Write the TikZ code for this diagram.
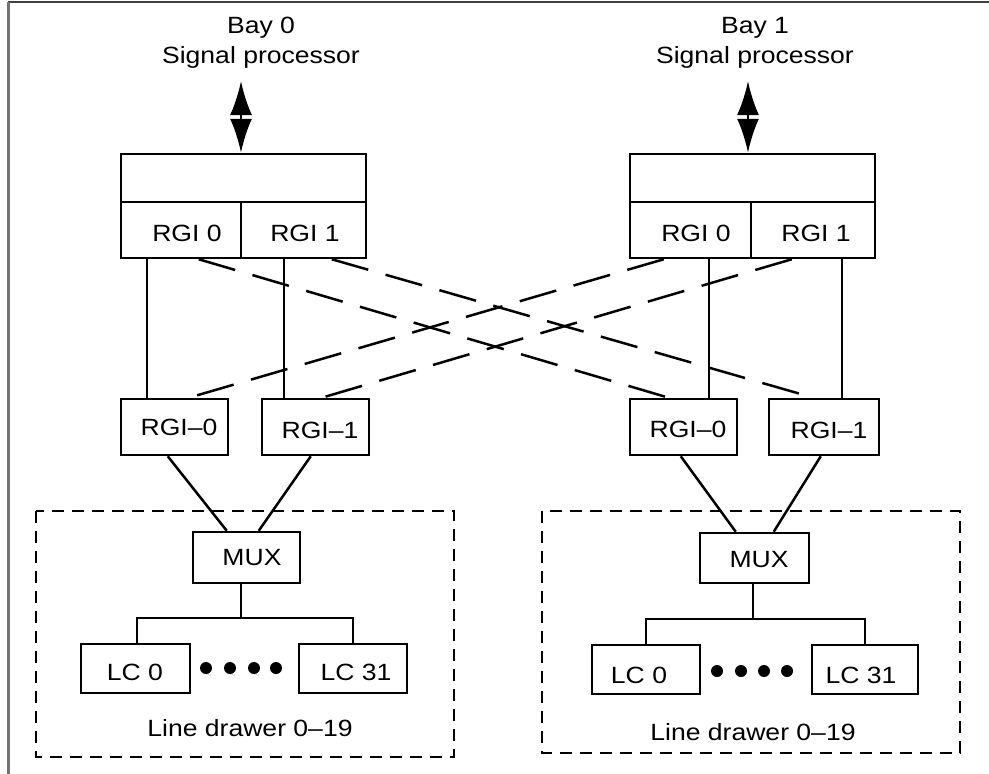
\documentclass[tikz,border=0pt]{standalone}
\usepackage{fontspec}
\setmainfont{Liberation Sans}[FakeStretch=1.13]
\usetikzlibrary{arrows.meta,positioning}
\begin{document}
\begin{tikzpicture}[x=1pt,y=-1pt,line width=2.5pt,
  every node/.style={font=\fontsize{23.5}{30}\selectfont,inner sep=0pt,line width=2.5pt},
  box/.style={draw,rectangle,minimum width=#1,minimum height=56pt},
  solid link/.style={draw,line width=2.5pt},
  cross/.style={draw,line width=2.5pt,dash pattern=on 38pt off 18pt},
  drawer/.style={draw,line width=2.5pt,dash pattern=on 12pt off 8pt},
  dot/.style={circle,fill,minimum size=12pt},
  bidir/.style={{Latex[length=34pt,width=22pt]}-{Latex[length=34pt,width=22pt]},line width=2.5pt}]
\useasboundingbox (0,0) rectangle (989,774);
% frame
\draw[line width=1.5pt,black!75] (8,2) -- (989,2);
\draw[line width=2.2pt,black!55] (8.5,2) -- (8.5,774);

% ---------- Bay 0 ----------
\node[align=center] (bay0) at (261,43) {Bay 0\\Signal processor};
\node[draw,rectangle,minimum width=245pt,minimum height=48pt] (spL) at (243.5,178) {};
\node[draw,rectangle,minimum width=120pt,minimum height=56pt] (tL0) at (181,230) {};
\node[draw,rectangle,minimum width=125pt,minimum height=56pt] (tL1) at (303.5,230) {};
\node (tL0t) at (187,233) {RGI 0};
\node (tL1t) at (305,233) {RGI 1};
\coordinate (arrL) at (241,81);
\draw[bidir] (arrL) -- (arrL |- spL.north);

\node[box=107pt] (mL0) at (174.5,427) {};
\node (mL0t) at (179,427) {RGI\textendash 0};
\node[box=107pt] (mL1) at (315.5,427) {};
\node (mL1t) at (320,430) {RGI\textendash 1};

\node[draw,rectangle,minimum width=107pt,minimum height=51pt] (muxL) at (246.5,557.5) {};
\node (muxLt) at (252,558) {MUX};
\node[draw,rectangle,minimum width=109pt,minimum height=49pt] (lcL0) at (135.5,668.5) {};
\node (lcL0t) at (135,672) {LC 0};
\node[draw,rectangle,minimum width=108pt,minimum height=49pt] (lcL31) at (353,668.5) {};
\node (lcL31t) at (356,672) {LC 31};
\node[dot] (dL1) at (206,668) {};
\node[dot] (dL2) at (230,668) {};
\node[dot] (dL3) at (254,668) {};
\node[dot] (dL4) at (276,668) {};
\draw[drawer] (36,511) rectangle (454,757);
\node (ldL) at (250,728) {Line drawer 0\textendash 19};

% ---------- Bay 1 ----------
\node[align=center] (bay1) at (755,43) {Bay 1\\Signal processor};
\node[draw,rectangle,minimum width=245pt,minimum height=48pt] (spR) at (752.5,178) {};
\node[draw,rectangle,minimum width=121pt,minimum height=56pt] (tR0) at (690.5,230) {};
\node[draw,rectangle,minimum width=124pt,minimum height=56pt] (tR1) at (813,230) {};
\node (tR0t) at (696,233) {RGI 0};
\node (tR1t) at (816,233) {RGI 1};
\coordinate (arrR) at (748,81);
\draw[bidir] (arrR) -- (arrR |- spR.north);

\node[box=107pt] (mR0) at (683.5,427) {};
\node (mR0t) at (688,429) {RGI\textendash 0};
\node[box=110pt] (mR1) at (824,427) {};
\node (mR1t) at (829,430) {RGI\textendash 1};

\node[draw,rectangle,minimum width=109pt,minimum height=50pt] (muxR) at (754.5,558) {};
\node (muxRt) at (759,560) {MUX};
\node[draw,rectangle,minimum width=108pt,minimum height=49pt] (lcR0) at (646,669.5) {};
\node (lcR0t) at (639,675) {LC 0};
\node[draw,rectangle,minimum width=106pt,minimum height=49pt] (lcR31) at (865,669.5) {};
\node (lcR31t) at (861,675) {LC 31};
\node[dot] (dR1) at (717,671) {};
\node[dot] (dR2) at (741,671) {};
\node[dot] (dR3) at (764,671) {};
\node[dot] (dR4) at (787,671) {};
\draw[drawer] (542,511) rectangle (960,753);
\node (ldR) at (753,732) {Line drawer 0\textendash 19};

% ---------- solid links top -> middle ----------
\draw[solid link] ([xshift=27pt]tL0.south west) -- ([xshift=27pt]mL0.north west);
\draw[solid link] ([xshift=44pt]tL1.south west) -- ([xshift=23pt]mL1.north west);
\draw[solid link] ([xshift=80pt]tR0.south west) -- ([xshift=80pt]mR0.north west);
\draw[solid link] ([xshift=92pt]tR1.south west) -- ([xshift=74pt]mR1.north west);

% ---------- dashed cross links ----------
\draw[cross] ([xshift=79pt]tL0.south west) -- ([xshift=40pt]mR0.north west);
\draw[cross] ([xshift=92pt]tL1.south west) -- ([xshift=46pt]mR1.north west);
\draw[cross] ([xshift=35pt]tR0.south west) -- ([xshift=69pt]mL0.north west);
\draw[cross] ([xshift=42pt]tR1.south west) -- ([xshift=61pt]mL1.north west);

% ---------- middle -> MUX ----------
\draw[solid link] ([xshift=48pt]mL0.south west) -- ([xshift=35pt]muxL.north west);
\draw[solid link] ([xshift=50pt]mL1.south west) -- ([xshift=67pt]muxL.north west);
\draw[solid link] ([xshift=52pt]mR0.south west) -- ([xshift=37pt]muxR.north west);
\draw[solid link] ([xshift=53pt]mR1.south west) -- ([xshift=75pt]muxR.north west);

% ---------- MUX -> LC ----------
\coordinate (busL) at (241,618);
\draw[solid link] (muxL.south -| busL) -- (busL);
\draw[solid link] (lcL0.north -| 137,0) -- (137,618) -- (353,618) -- (lcL31.north -| 353,0);
\coordinate (busR) at (753,619);
\draw[solid link] (muxR.south -| busR) -- (busR);
\draw[solid link] (lcR0.north -| 646,0) -- (646,619) -- (865,619) -- (lcR31.north -| 865,0);
\end{tikzpicture}
\end{document}
